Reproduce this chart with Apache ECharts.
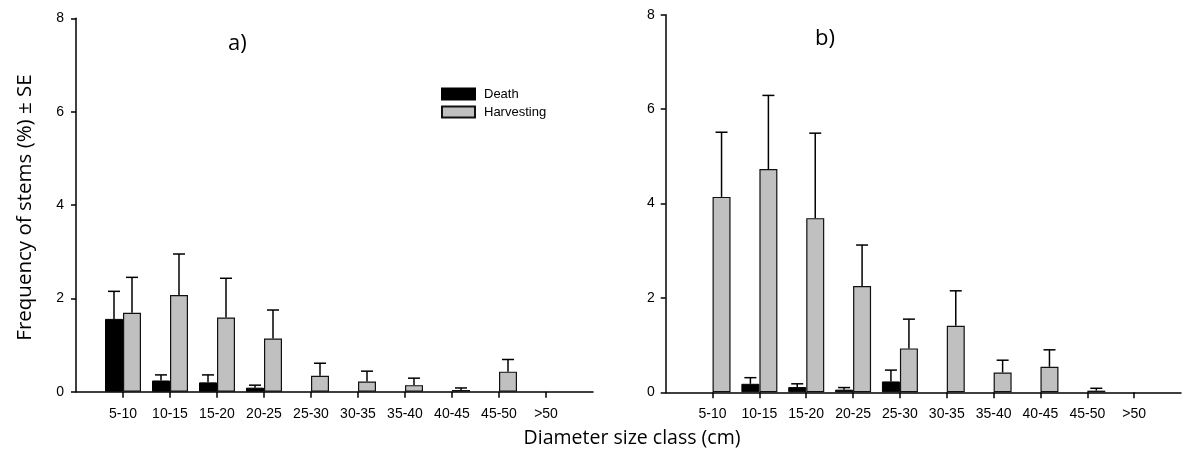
<!DOCTYPE html>
<html>
<head>
<meta charset="utf-8">
<script src="https://cdn.jsdelivr.net/npm/echarts@6/dist/echarts.min.js"></script>
<style>html,body{margin:0;padding:0;background:#fff}#c{width:1184px;height:455px}</style>
</head>
<body>
<div id="c"></div>
<script>
// ---- data ----
const categories = ['5-10','10-15','15-20','20-25','25-30','30-35','35-40','40-45','45-50','>50'];
const yTicks = [0, 2, 4, 6, 8];
// panel a)
const deathA   = [1.56, 0.24, 0.20, 0.086, 0, 0, 0, 0, 0, 0];
const deathASE = [0.59, 0.12, 0.16, 0.054, 0, 0, 0, 0, 0, 0];
const harvA    = [1.69, 2.07, 1.59, 1.14, 0.34, 0.22, 0.14, 0.036, 0.43, 0];
const harvASE  = [0.76, 0.88, 0.84, 0.61, 0.27, 0.22, 0.15, 0.044, 0.26, 0];
// panel b)
const deathB   = [0, 0.18, 0.11, 0.056, 0.23, 0, 0, 0, 0, 0];
const deathBSE = [0, 0.13, 0.07, 0.044, 0.24, 0, 0, 0, 0, 0];
const harvB    = [4.14, 4.73, 3.69, 2.25, 0.93, 1.41, 0.42, 0.54, 0.035, 0];
const harvBSE  = [1.37, 1.56, 1.80, 0.87, 0.62, 0.74, 0.26, 0.36, 0.05, 0];

const paddedCats = [''].concat(categories, ['']);
function barData(vals){ return [null].concat(vals.map(v => v > 0 ? v : null), [null]); }
function errData(vals, se){
  const out = [];
  vals.forEach((v, i) => { if (se[i] > 0) out.push([i + 1, v + se[i], v]); });
  return out;
}
function errRenderer(offset){
  return function(params, api){
    const idx = api.value(0);
    const top = api.coord([idx, api.value(1)]);
    const base = api.coord([idx, api.value(2)]);
    const x = top[0] + offset;
    return {type:'group', children:[
      {type:'line', shape:{x1:x, y1:base[1], x2:x, y2:top[1]}, style:{stroke:'#000', lineWidth:1.5}},
      {type:'line', shape:{x1:x-6, y1:top[1], x2:x+6, y2:top[1]}, style:{stroke:'#000', lineWidth:1.5}}
    ]};
  };
}
const tickFont = 'Liberation Sans';
function xAxis(gi){
  return {
    type:'category', gridIndex:gi, data:paddedCats, boundaryGap:false,
    axisLine:{lineStyle:{color:'#000', width:1.5}},
    axisTick:{length:6, lineStyle:{color:'#000', width:1.5}, interval:(i, v) => v !== ''},
    axisLabel:{interval:0, margin:15, fontSize:14, fontFamily:tickFont, color:'#000'},
    splitLine:{show:false}
  };
}
function yAxis(gi, margin){
  return {
    type:'value', gridIndex:gi, min:yTicks[0], max:yTicks[yTicks.length-1], interval:yTicks[1]-yTicks[0],
    axisLine:{show:true, lineStyle:{color:'#000', width:1.5}},
    axisTick:{show:true, length:5, lineStyle:{color:'#000', width:1.5}},
    axisLabel:{margin:margin, fontSize:14, fontFamily:tickFont, color:'#000'},
    splitLine:{show:false}
  };
}
const deathStyle = {color:'#000', borderColor:'#000', borderWidth:1};
const harvStyle = {color:'#c0c0c0', borderColor:'#111', borderWidth:1.2};

const chart = echarts.init(document.getElementById('c'), null, {renderer:'canvas'});
chart.setOption({
  animation:false,
  backgroundColor:'#fff',
  grid:[
    {left:76, top:18.3, width:517, height:373.4},
    {left:665.7, top:14.7, width:522.5, height:377.6}
  ],
  xAxis:[xAxis(0), xAxis(1)],
  yAxis:[yAxis(0, 12), yAxis(1, 11)],
  legend:{
    data:['Death','Harvesting'], orient:'vertical', left:441, top:87.5, padding:0,
    itemWidth:33, itemHeight:11, itemGap:5, selectedMode:false,
    icon:'rect',
    textStyle:{fontSize:13, fontFamily:tickFont, color:'#000', lineHeight:13, padding:[0,0,0,4]}
  },
  series:[
    {name:'Death', type:'bar', xAxisIndex:0, yAxisIndex:0, data:barData(deathA), barWidth:18, barGap:'0%', itemStyle:deathStyle},
    {name:'Harvesting', type:'bar', xAxisIndex:0, yAxisIndex:0, data:barData(harvA), barWidth:18, barGap:'0%', itemStyle:harvStyle},
    {name:'Death', type:'bar', xAxisIndex:1, yAxisIndex:1, data:barData(deathB), barWidth:18, barGap:'0%', itemStyle:deathStyle},
    {name:'Harvesting', type:'bar', xAxisIndex:1, yAxisIndex:1, data:barData(harvB), barWidth:18, barGap:'0%', itemStyle:harvStyle},
    {name:'errDA', type:'custom', xAxisIndex:0, yAxisIndex:0, data:errData(deathA, deathASE), renderItem:errRenderer(-9), z:1},
    {name:'errHA', type:'custom', xAxisIndex:0, yAxisIndex:0, data:errData(harvA, harvASE), renderItem:errRenderer(9), z:1},
    {name:'errDB', type:'custom', xAxisIndex:1, yAxisIndex:1, data:errData(deathB, deathBSE), renderItem:errRenderer(-9), z:1},
    {name:'errHB', type:'custom', xAxisIndex:1, yAxisIndex:1, data:errData(harvB, harvBSE), renderItem:errRenderer(9), z:1}
  ],
  graphic:[
    {type:'text', left:228, top:33, style:{text:'a)', font:'22px "Open Sans"', fill:'#000'}},
    {type:'text', left:815, top:28, style:{text:'b)', font:'22px "Open Sans"', fill:'#000'}},
    {type:'text', x:632, y:438, style:{text:'Diameter size class (cm)', font:'19.5px "Open Sans"', fill:'#000', align:'center', verticalAlign:'middle'}},
    {type:'text', x:25, y:207.5, rotation:Math.PI/2, style:{text:'Frequency of stems (%) \u00b1 SE', font:'20.5px "Open Sans"', fill:'#000', align:'center', verticalAlign:'middle'}}
  ]
});
</script>
</body>
</html>
